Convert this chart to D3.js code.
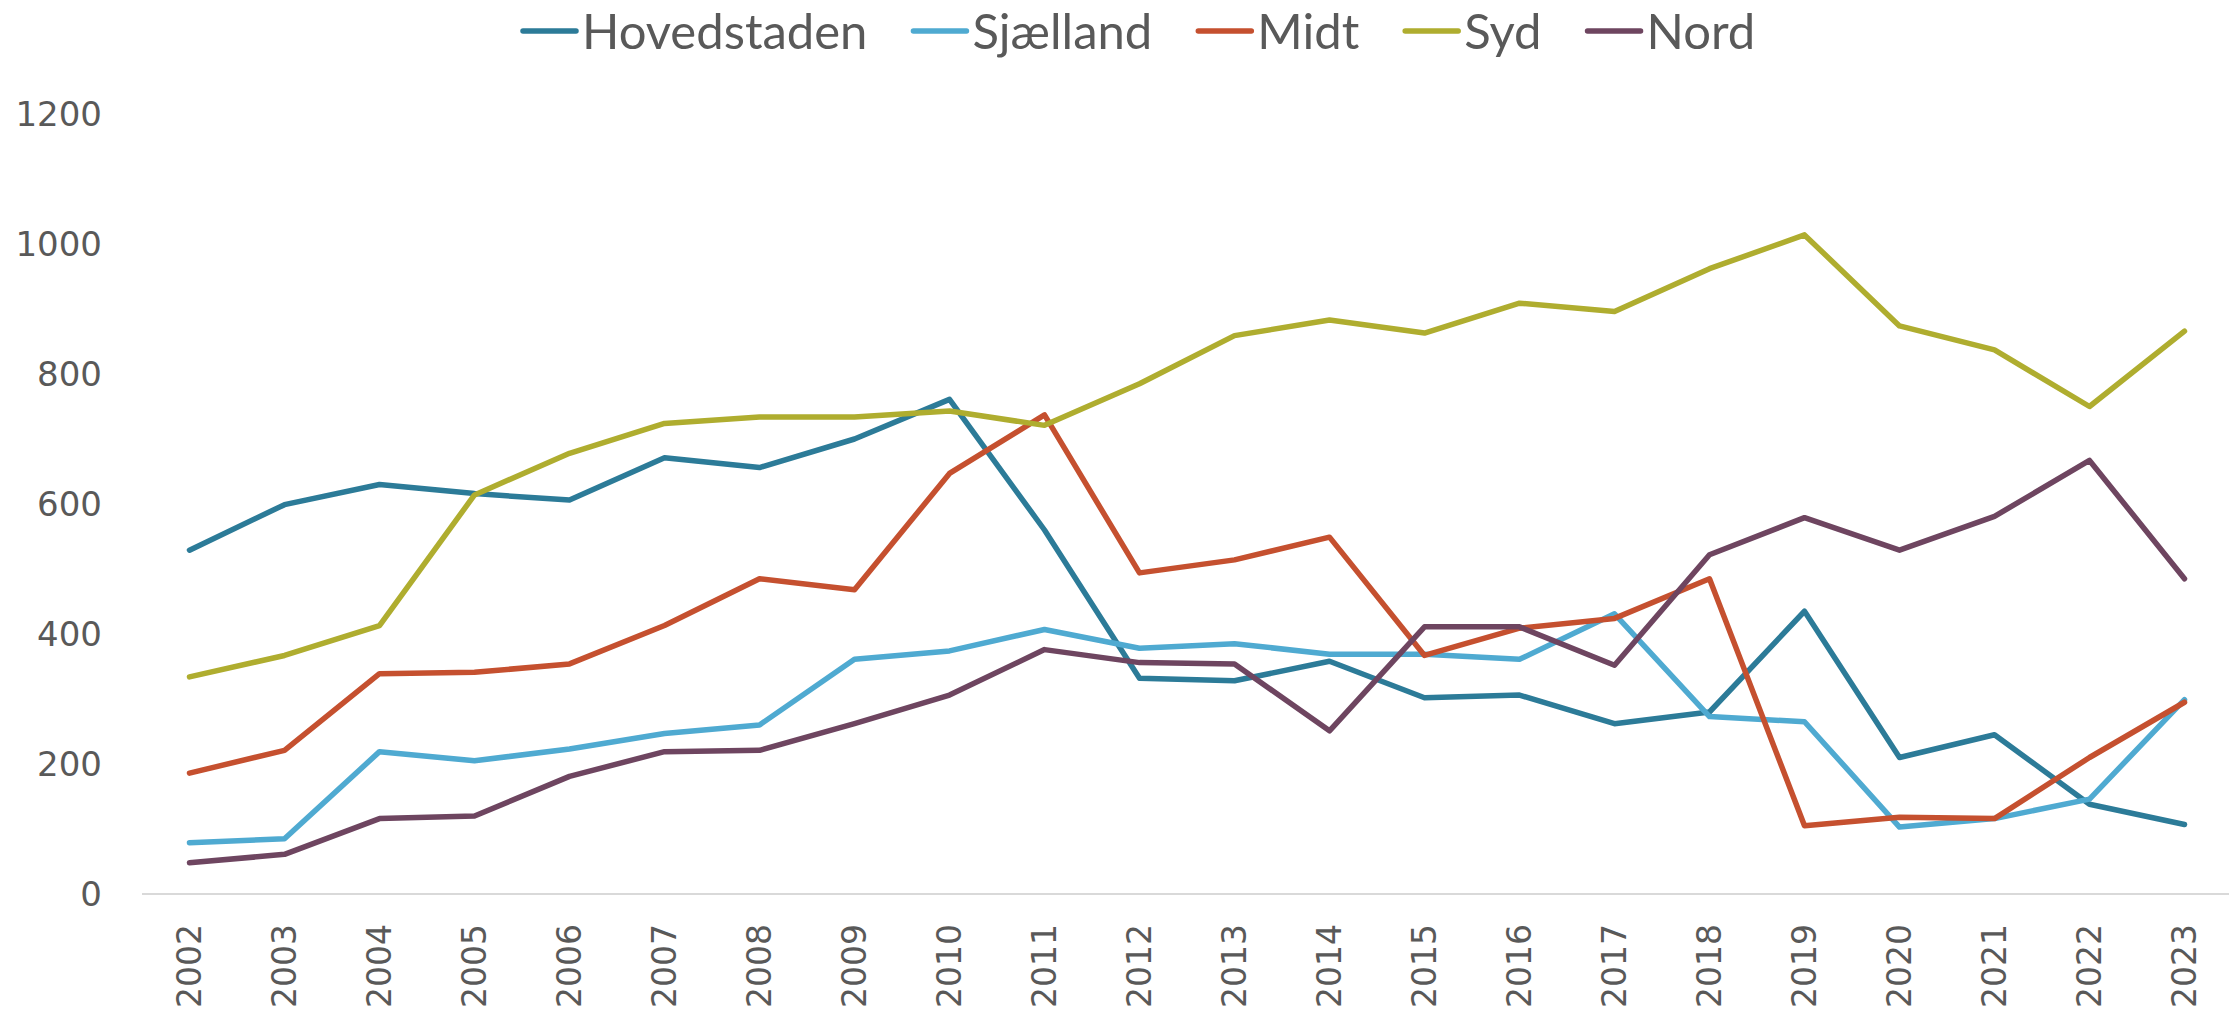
<!DOCTYPE html>
<html><head><meta charset="utf-8">
<script src="https://cdn.jsdelivr.net/npm/d3@7"></script>
<style>body{margin:0;background:#fff}svg{display:block}</style>
</head><body>
<svg id="c" width="2229" height="1013"></svg>
<script>
const years = ["2002","2003","2004","2005","2006","2007","2008","2009","2010","2011","2012","2013","2014","2015","2016","2017","2018","2019","2020","2021","2022","2023"];
const seriesNames = ["Hovedstaden","Sjælland","Midt","Syd","Nord"];
const hovedstaden = [529,599,630,616,606,671,656,700,761,560,332,328,358,302,306,262,280,435,210,245,138,107];
const sjaelland   = [79,85,219,205,223,247,260,361,374,407,378,385,369,369,361,431,273,265,103,116,146,299];
const midt        = [186,221,339,341,354,413,485,468,647,737,494,514,549,367,409,424,485,105,118,116,210,295];
const syd         = [334,367,413,614,678,724,734,734,743,721,785,859,883,863,909,896,962,1014,874,837,750,866];
const nord        = [48,61,116,120,181,219,221,262,306,376,356,354,251,411,411,352,522,579,529,581,667,485];
const yTicks = [0,200,400,600,800,1000,1200];
const colors = ["#2C7B98","#4FAAD1","#C5502F","#AFAD2F","#6E4560"];

const allSeries = [hovedstaden, sjaelland, midt, syd, nord];
const svg = d3.select("#c");

const x = d3.scaleBand().domain(years).range([142, 2232]);
const y = d3.scaleLinear().domain([0,1200]).range([894, 114]);
const cx = d => x(d) + x.bandwidth()/2;

// baseline
svg.append("line").attr("x1",142).attr("x2",2229).attr("y1",y(0)).attr("y2",y(0))
  .attr("stroke","#d9d9d9").attr("stroke-width",2);

// y axis labels
const yAxis = d3.axisLeft(y).tickValues(yTicks).tickFormat(d3.format("d")).tickSize(0).tickPadding(0);
const gy = svg.append("g").attr("transform","translate(102,0)").call(yAxis);
gy.select(".domain").remove();
gy.selectAll("text").attr("font-family","DejaVu Sans").attr("font-size",34).attr("fill","#595959").attr("dy","0.35em");

// x axis labels
const xAxis = d3.axisBottom(x).tickSize(0);
const gx = svg.append("g").attr("transform","translate(0,"+y(0)+")").call(xAxis);
gx.select(".domain").remove();
gx.selectAll("text").attr("font-family","DejaVu Sans").attr("font-size",33).attr("fill","#595959")
  .attr("transform","rotate(-90)").attr("text-anchor","end").attr("x",-30).attr("y",0).attr("dy","0.35em");

// lines
const line = d3.line().x((d,i)=>cx(years[i])).y(d=>y(d));
allSeries.forEach((s,k)=>{
  svg.append("path").datum(s).attr("d",line).attr("fill","none")
    .attr("stroke",colors[k]).attr("stroke-width",5.5)
    .attr("stroke-linejoin","round").attr("stroke-linecap","round");
});

// legend
const lg = svg.append("g");
let lx = 523;
const ly = 31;
seriesNames.forEach((n,k)=>{
  lg.append("line").attr("x1",lx).attr("x2",lx+53).attr("y1",ly).attr("y2",ly)
    .attr("stroke",colors[k]).attr("stroke-width",5.5).attr("stroke-linecap","round");
  const t = lg.append("text").attr("x",lx+59).attr("y",ly).attr("dy","0.36em")
    .attr("font-family","Lato").attr("font-size",49).attr("fill","#595959").text(n);
  const w = t.node().getComputedTextLength();
  lx += 59 + w + 46;
});
</script>
</body></html>
